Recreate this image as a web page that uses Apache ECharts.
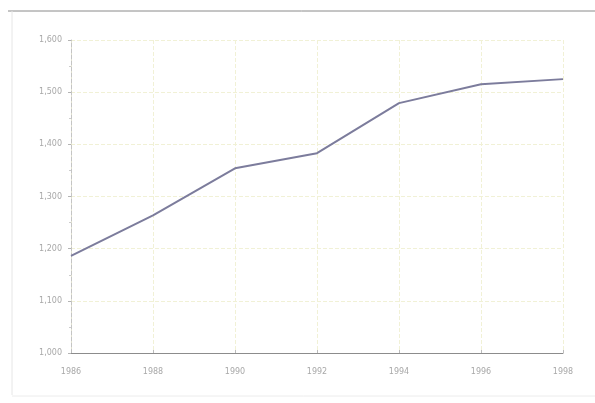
<!DOCTYPE html>
<html>
<head>
<meta charset="utf-8">
<script src="https://cdn.jsdelivr.net/npm/echarts@6/dist/echarts.min.js"></script>
<style>
html,body{margin:0;padding:0;background:#fff;}
#c{width:595px;height:403px;}
</style>
</head>
<body>
<div id="c"></div>
<script>
var years = ['1986', '1988', '1990', '1992', '1994', '1996', '1998'];
var values = [1186, 1264, 1354, 1383, 1479, 1515, 1525];
var yTicks = {min: 1000, max: 1600, step: 100};

var chart = echarts.init(document.getElementById('c'));
chart.setOption({
  backgroundColor: '#ffffff',
  animation: false,
  graphic: [
    {type: 'line', shape: {x1: 8, y1: 11, x2: 595, y2: 11}, style: {stroke: '#8a8a8a', lineWidth: 1}},
    {type: 'line', shape: {x1: 12, y1: 11, x2: 12, y2: 395}, style: {stroke: '#e6e6e6', lineWidth: 1}},
    {type: 'line', shape: {x1: 12, y1: 396, x2: 595, y2: 396}, style: {stroke: '#ececec', lineWidth: 1}}
  ],
  grid: {left: 71, right: 32, top: 40, bottom: 50, containLabel: false},
  xAxis: {
    type: 'category',
    data: years,
    boundaryGap: false,
    axisLine: {show: true, lineStyle: {color: '#8c8c8c', width: 1}},
    axisTick: {show: true, length: 3, inside: true, lineStyle: {color: '#bbbbbb'}},
    axisLabel: {color: '#a8a8a8', fontSize: 8, margin: 15, fontFamily: 'DejaVu Sans'},
    splitLine: {show: true, lineStyle: {color: '#f1f1d6', type: 'dashed', width: 1}}
  },
  yAxis: {
    type: 'value',
    min: yTicks.min,
    max: yTicks.max,
    interval: yTicks.step,
    axisLine: {show: true, lineStyle: {color: '#c4c4c4', type: 'dashed', width: 1}},
    axisTick: {show: true, length: 3, lineStyle: {color: '#b4b4b4'}},
    minorTick: {show: true, splitNumber: 2, length: 2, lineStyle: {color: '#cccccc'}},
    axisLabel: {
      color: '#a8a8a8', fontSize: 8, margin: 9, fontFamily: 'DejaVu Sans',
      formatter: function (v) { return v.toLocaleString('en-US'); }
    },
    splitLine: {show: true, lineStyle: {color: '#f1f1d6', type: 'dashed', width: 1}}
  },
  series: [{
    type: 'line',
    data: values,
    symbol: 'none',
    lineStyle: {color: '#7c7c9c', width: 2}
  }]
});
</script>
</body>
</html>
